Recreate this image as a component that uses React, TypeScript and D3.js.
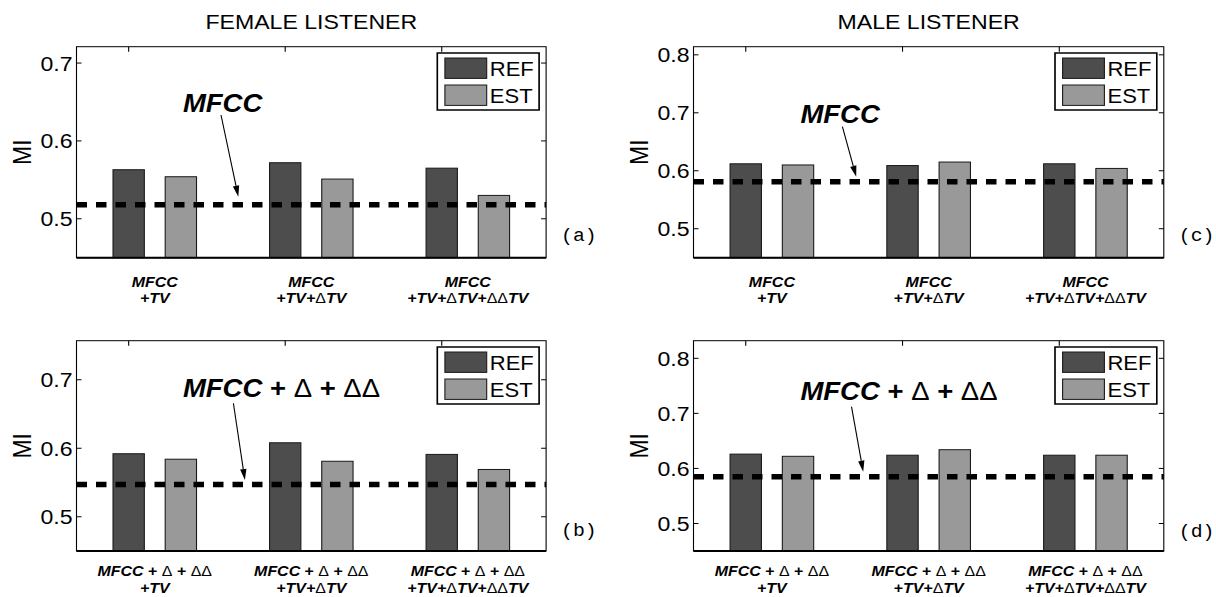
import React from 'react';
import * as d3 from 'd3';

// bar series
const series = ['REF', 'EST'];
const seriesColors = ['#4d4d4d', '#999999'];

// x tick labels (two lines each)
const mfccLabels = [['MFCC', '+TV'], ['MFCC', '+TV+ΔTV'], ['MFCC', '+TV+ΔTV+ΔΔTV']];
const deltaLabels = [
  ['MFCC + Δ + ΔΔ', '+TV'],
  ['MFCC + Δ + ΔΔ', '+TV+ΔTV'],
  ['MFCC + Δ + ΔΔ', '+TV+ΔTV+ΔΔTV'],
];

// values
const femaleMfccRef = [0.563, 0.572, 0.565];
const femaleMfccEst = [0.554, 0.551, 0.530];
const femaleMfccBase = 0.518;
const femaleDeltaRef = [0.592, 0.608, 0.591];
const femaleDeltaEst = [0.584, 0.581, 0.569];
const femaleDeltaBase = 0.547;
const maleMfccRef = [0.612, 0.609, 0.612];
const maleMfccEst = [0.610, 0.615, 0.604];
const maleMfccBase = 0.581;
const maleDeltaRef = [0.626, 0.624, 0.624];
const maleDeltaEst = [0.622, 0.634, 0.624];
const maleDeltaBase = 0.585;

const femaleTicks = [0.5, 0.6, 0.7];
const maleTicks = [0.5, 0.6, 0.7, 0.8];

// the figure is slightly stretched horizontally
const SX = 1.1;
const VW = 1216 / SX;
const X = (px: number) => px / SX;

const FONT = "'Liberation Sans', Arial, Helvetica, sans-serif";
const MONO = "'Liberation Mono', 'Courier New', monospace";

const panels = [
  {
    key: 'a', title: 'FEMALE LISTENER', ref: femaleMfccRef, est: femaleMfccEst, base: femaleMfccBase,
    labels: mfccLabels, ticks: femaleTicks, domain: [0.45, 0.721], note: 'MFCC',
    left: 76.5, right: 546.1, top: 46.7, bottom: 257.7,
    noteX: 182.9, noteY: 111.7, arrow: [221, 115, 238.3, 196.7], tag: '(a)', tagY: 241, labelY: [287, 303],
  },
  {
    key: 'c', title: 'MALE LISTENER', ref: maleMfccRef, est: maleMfccEst, base: maleMfccBase,
    labels: mfccLabels, ticks: maleTicks, domain: [0.45, 0.814], note: 'MFCC',
    left: 693.5, right: 1163.8, top: 46.7, bottom: 257.7,
    noteX: 800.4, noteY: 123.3, arrow: [842.4, 126.7, 856.2, 176.7], tag: '(c)', tagY: 241, labelY: [287, 303],
  },
  {
    key: 'b', title: '', ref: femaleDeltaRef, est: femaleDeltaEst, base: femaleDeltaBase,
    labels: deltaLabels, ticks: femaleTicks, domain: [0.45, 0.757], note: 'MFCC + Δ + ΔΔ',
    left: 76.5, right: 546.1, top: 340.7, bottom: 551,
    noteX: 182.9, noteY: 396.7, arrow: [233.4, 403.3, 244.9, 480], tag: '(b)', tagY: 536.5, labelY: [576, 593],
  },
  {
    key: 'd', title: '', ref: maleDeltaRef, est: maleDeltaEst, base: maleDeltaBase,
    labels: deltaLabels, ticks: maleTicks, domain: [0.45, 0.832], note: 'MFCC + Δ + ΔΔ',
    left: 693.5, right: 1163.8, top: 340.7, bottom: 551,
    noteX: 800.4, noteY: 400, arrow: [851.5, 406.7, 863.2, 471.7], tag: '(d)', tagY: 537, labelY: [576, 593],
  },
];

// bold italic text with upright, regular deltas
function rich(s: string, uprightPlus: boolean) {
  return s
    .split(/(Δ|\+)/)
    .filter((t) => t !== '')
    .map((t, i) => {
      if (t === 'Δ')
        return (
          <tspan key={i} fontWeight="normal" fontStyle="normal">
            Δ
          </tspan>
        );
      if (t === '+' && uprightPlus)
        return (
          <tspan key={i} fontStyle="normal">
            +
          </tspan>
        );
      return <tspan key={i}>{t}</tspan>;
    });
}

function Arrow({ a }: { a: number[] }) {
  const [sx, sy, ex, ey] = a;
  const ang = Math.atan2(ey - sy, ex - sx);
  const len = 11;
  const w = 3.2;
  const bx = ex - len * Math.cos(ang);
  const by = ey - len * Math.sin(ang);
  const nx = -Math.sin(ang) * w;
  const ny = Math.cos(ang) * w;
  const head = [
    [ex, ey],
    [bx + nx, by + ny],
    [bx - nx, by - ny],
  ]
    .map(([px, py]) => `${X(px)},${py}`)
    .join(' ');
  return (
    <g>
      <line x1={X(sx)} y1={sy} x2={X(bx)} y2={by} stroke="#000" strokeWidth={1} />
      <polygon points={head} fill="#000" />
    </g>
  );
}

function Panel({ p }: { p: any }) {
  const groups = d3.range(p.ref.length);
  const x0 = d3.scaleBand<number>().domain(groups).range([X(p.left), X(p.right)]);
  const half = x0.bandwidth() * 0.2667;
  const x1 = d3.scaleBand<string>().domain(series).range([-half, half]).paddingInner(0.4);
  const y = d3.scaleLinear().domain(p.domain).range([p.bottom, p.top]);
  const values = [p.ref, p.est];
  const center = (g: number) => (x0(g) as number) + x0.bandwidth() / 2;
  const tickX = (g: number) => center(g) + (x1('REF') as number) + x1.bandwidth() / 2;
  const L = X(p.left);
  const R = X(p.right);
  const tl = 5;

  const legW = 101.8;
  const legLeft = p.right - 7 - legW;
  const legTop = p.top + 6.3;

  return (
    <g>
      {p.title && (
        <text x={(L + R) / 2} y={29.3} textAnchor="middle" fontSize={21} fontFamily={FONT}>
          {p.title}
        </text>
      )}
      {/* bars */}
      {groups.map((g) =>
        series.map((s, si) => {
          const v = values[si][g];
          return (
            <rect
              key={`${g}-${s}`}
              x={center(g) + (x1(s) as number)}
              y={y(v)}
              width={x1.bandwidth()}
              height={p.bottom - y(v)}
              fill={seriesColors[si]}
              stroke="#1a1a1a"
              strokeWidth={1}
            />
          );
        })
      )}
      {/* axes box */}
      <rect x={L} y={p.top} width={R - L} height={p.bottom - p.top} fill="none" stroke="#000" strokeWidth={1} />
      <line x1={L} x2={R} y1={p.bottom} y2={p.bottom} stroke="#000" strokeWidth={2} />
      {/* y ticks */}
      {p.ticks.map((t: number) => (
        <g key={t}>
          <line x1={L} x2={L + X(tl)} y1={y(t)} y2={y(t)} stroke="#000" />
          <line x1={R} x2={R - X(tl)} y1={y(t)} y2={y(t)} stroke="#000" />
          <text x={L - X(4)} y={y(t)} dy="0.36em" textAnchor="end" fontSize={21} fontFamily={FONT}>
            {d3.format('.1f')(t)}
          </text>
        </g>
      ))}
      {/* x ticks (at the REF bars) */}
      {groups.map((g) => (
        <line key={g} x1={tickX(g)} x2={tickX(g)} y1={p.top} y2={p.top + tl} stroke="#000" />
      ))}
      {/* x labels */}
      {groups.map((g) => (
        <text
          key={g}
          textAnchor="middle"
          fontSize={14.5}
          fontFamily={FONT}
          fontWeight="bold"
          fontStyle="italic"
          style={{ whiteSpace: 'pre' }}
        >
          {p.labels[g].map((line: string, li: number) => (
            <tspan key={li} x={center(g)} y={p.labelY[li]}>
              {rich(line, line.includes('MFCC'))}
            </tspan>
          ))}
        </text>
      ))}
      {/* y label */}
      <text
        transform={`translate(${X(p.left - 45.5)},${(p.top + p.bottom) / 2}) rotate(-90)`}
        textAnchor="middle"
        fontSize={23}
        fontFamily={FONT}
      >
        MI
      </text>
      {/* baseline */}
      <line
        x1={L}
        x2={R}
        y1={y(p.base)}
        y2={y(p.base)}
        stroke="#000"
        strokeWidth={5.5}
        strokeDasharray={`${X(10.5)},${X(9)}`}
      />
      {/* annotation */}
      <text
        x={X(p.noteX)}
        y={p.noteY}
        fontSize={25}
        fontFamily={FONT}
        fontWeight="bold"
        fontStyle="italic"
        style={{ whiteSpace: 'pre' }}
      >
        {rich(p.note, true)}
      </text>
      <Arrow a={p.arrow} />
      {/* legend */}
      <rect x={X(legLeft)} y={legTop} width={X(legW)} height={57} fill="#fff" stroke="#000" strokeWidth={1.5} />
      {series.map((s, si) => (
        <g key={s}>
          <rect
            x={X(legLeft + 7.6)}
            y={legTop + 5 + si * 27}
            width={X(41.8)}
            height={20.4}
            fill={seriesColors[si]}
            stroke="#1a1a1a"
            strokeWidth={1}
          />
          <text x={X(legLeft + 52.5)} y={legTop + 23.3 + si * 27} fontSize={20} fontFamily={FONT}>
            {s}
          </text>
        </g>
      ))}
      {/* panel tag */}
      <text x={X(p.right + 15)} y={p.tagY} fontSize={18} fontFamily={MONO}>
        {p.tag}
      </text>
    </g>
  );
}

export default function App() {
  return (
    <div style={{ position: 'absolute', left: 0, top: 0, background: '#fff' }}>
      <svg width={1216} height={597} viewBox={`0 0 ${VW} 597`} preserveAspectRatio="none" style={{ display: 'block' }}>
        <rect x={0} y={0} width={VW} height={597} fill="#fff" />
        {panels.map((p) => (
          <Panel key={p.key} p={p} />
        ))}
      </svg>
    </div>
  );
}
